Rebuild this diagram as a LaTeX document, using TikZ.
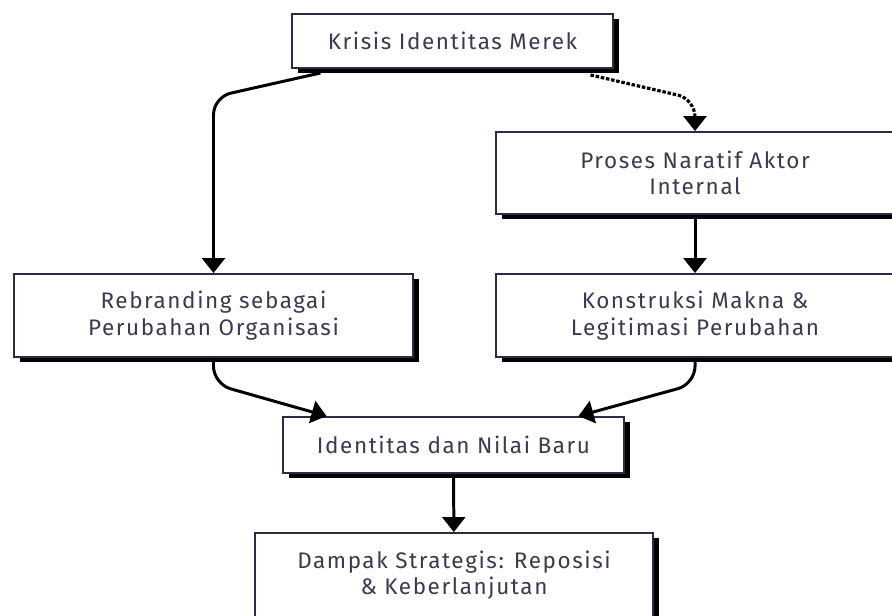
\documentclass[tikz,border=0pt]{standalone}
\usepackage{fontspec}
\setmainfont{Fira Sans}[LetterSpace=7]
\usetikzlibrary{arrows.meta,shadows,calc}
\definecolor{boxline}{HTML}{2B2B45}
\definecolor{boxtext}{HTML}{3A3A50}
\begin{document}
\begin{tikzpicture}[x=0.02cm,y=-0.02cm,
  box/.style={draw=boxline,line width=1.1pt,fill=white,text=boxtext,align=center,inner sep=0pt,
    font=\fontsize{12.8}{15}\selectfont,
    drop shadow={shadow xshift=0.12cm,shadow yshift=-0.1cm,fill=black,opacity=1}},
  arrow/.style={-{Triangle[width=13pt,length=8.5pt]},line width=1.7pt,rounded corners=10pt},
  dotarrow/.style={arrow,line width=1.8pt,dash pattern=on 2pt off 1pt}]
  \useasboundingbox (0,0) rectangle (892,615);

  \node[box,minimum width=6.42cm,minimum height=1.08cm] (krisis) at (452.5,41) {Krisis Identitas Merek};
  \node[box,minimum width=7.98cm,minimum height=1.64cm] (proses) at (695,173) {Proses Naratif Aktor\\Internal};
  \node[box,minimum width=7.98cm,minimum height=1.66cm] (rebranding) at (213.5,315.5) {Rebranding sebagai\\Perubahan Organisasi};
  \node[box,minimum width=7.98cm,minimum height=1.66cm] (konstruksi) at (695,315.5) {Konstruksi Makna \&\\Legitimasi Perubahan};
  \node[box,minimum width=6.82cm,minimum height=1.12cm] (identitas) at (453.5,445) {Identitas dan Nilai Baru};
  \node[box,minimum width=7.96cm,minimum height=1.68cm] (dampak) at (454,575) {Dampak Strategis: Reposisi\\\& Keberlanjutan};

  \draw[arrow] ($(krisis.south)+(-132,4)$) -- ($(rebranding.north)+(0,-176)$) -- (rebranding.north);
  \draw[dotarrow] ($(krisis.south)+(138,6)$) -- ($(proses.north)+(0,-32)$) -- (proses.north);
  \draw[arrow] (proses) -- (konstruksi);
  \draw[arrow] (rebranding.south) -- ++(0,26) -- ($(identitas.north)+(-127,0)$);
  \draw[arrow] (konstruksi.south) -- ++(0,26) -- ($(identitas.north)+(125,0)$);
  \draw[arrow] (identitas) -- (dampak);
\end{tikzpicture}
\end{document}
